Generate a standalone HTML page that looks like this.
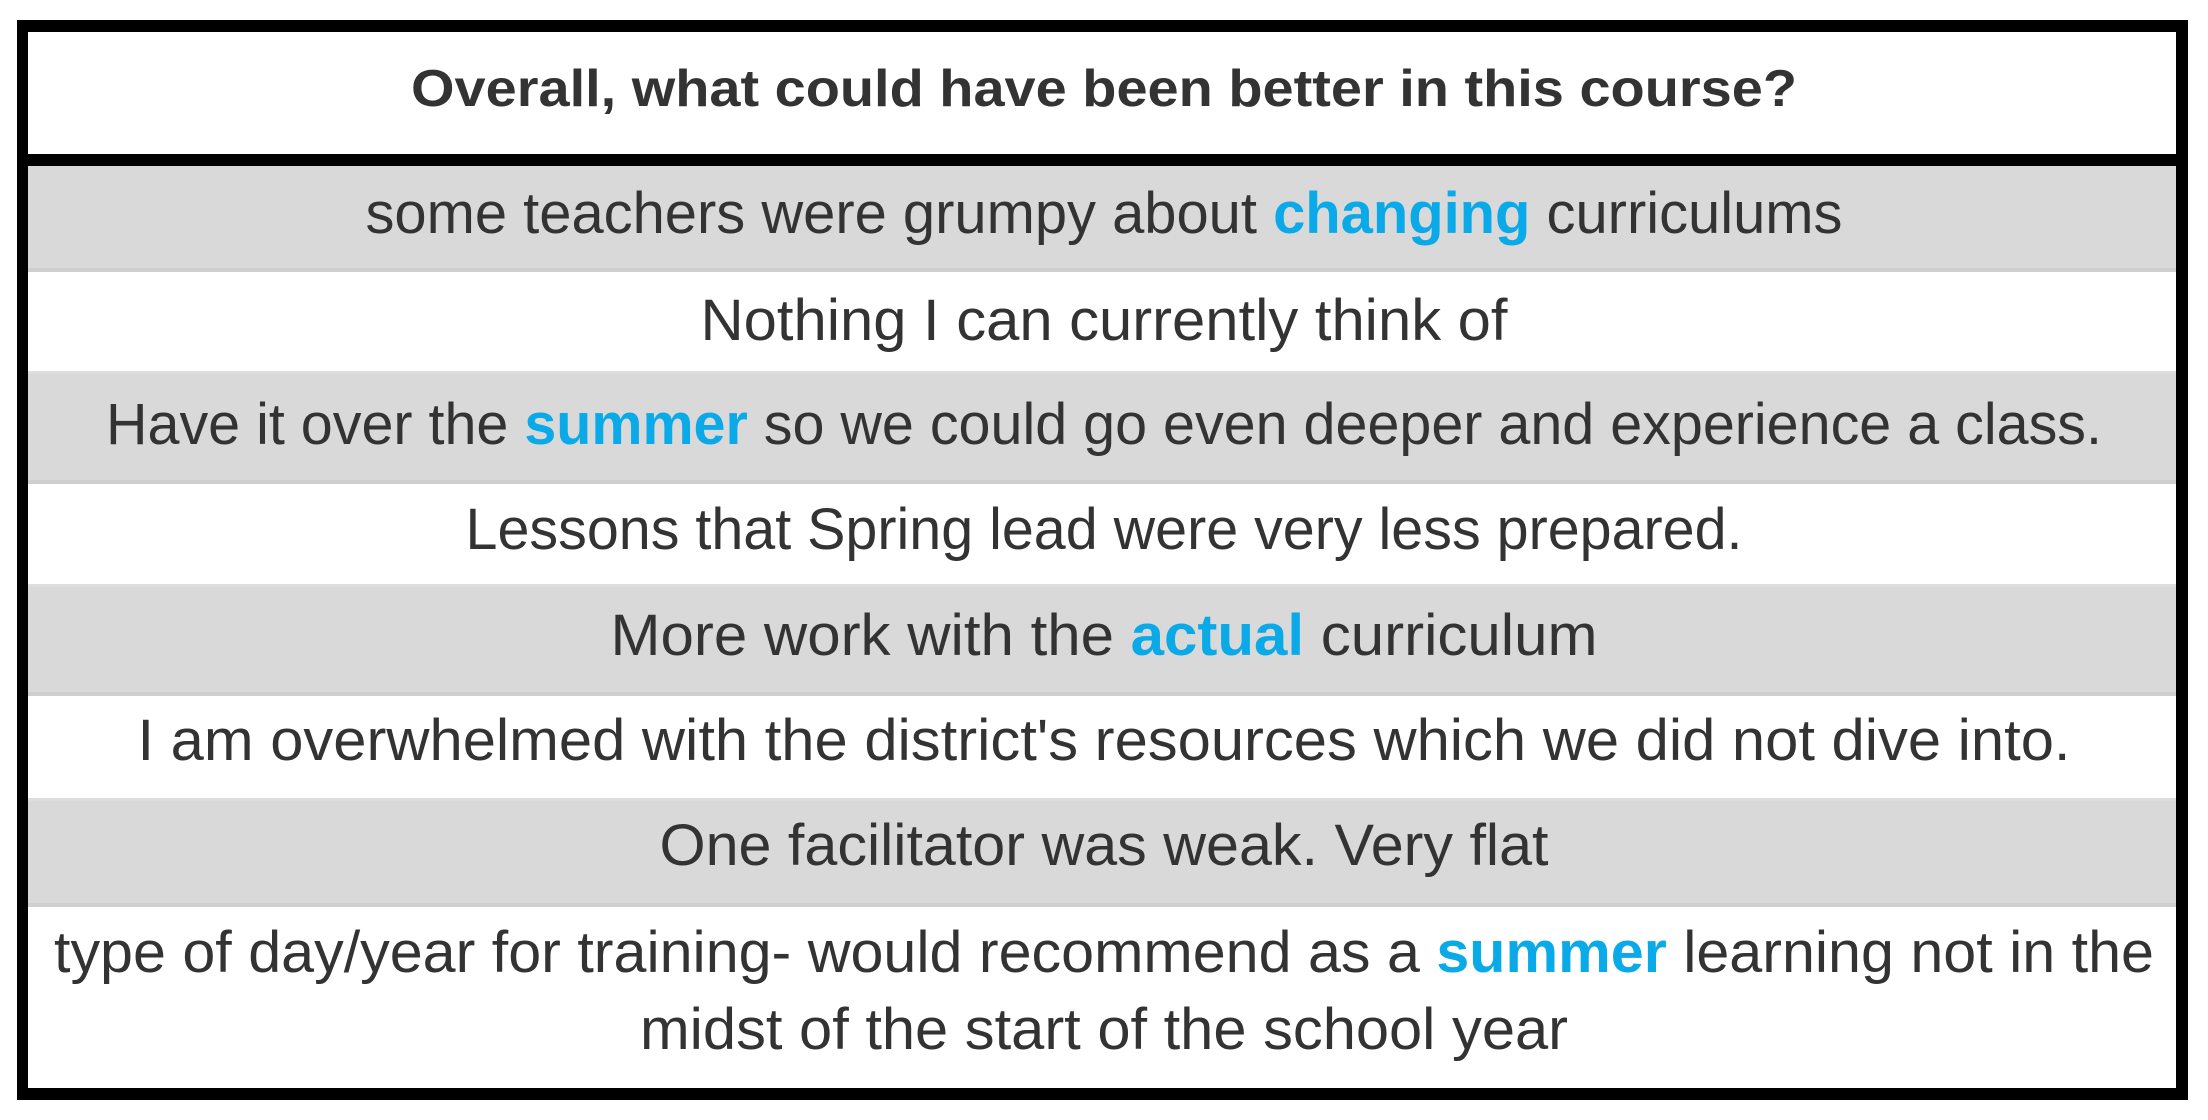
<!DOCTYPE html>
<html><head><meta charset="utf-8"><style>
html,body{margin:0;padding:0;background:#fff;}
svg{display:block;}
text{font-family:"Liberation Sans",sans-serif;fill:#333;}
.b{font-weight:bold;fill:#0aa9e8;}
</style></head><body>
<svg width="2208" height="1120" viewBox="0 0 2208 1120">
<rect x="0" y="0" width="2208" height="1120" fill="#fff"/>
<g>
<rect x="28" y="166" width="2148" height="104" fill="#d9d9d9"/>
<rect x="28" y="268" width="2148" height="4" fill="#cfcfcf"/>
<rect x="28" y="371" width="2148" height="3" fill="#dedede"/>
<rect x="28" y="374" width="2148" height="108" fill="#d9d9d9"/>
<rect x="28" y="480" width="2148" height="4" fill="#cfcfcf"/>
<rect x="28" y="584" width="2148" height="3" fill="#dedede"/>
<rect x="28" y="587" width="2148" height="107" fill="#d9d9d9"/>
<rect x="28" y="692" width="2148" height="4" fill="#cfcfcf"/>
<rect x="28" y="798" width="2148" height="3" fill="#dedede"/>
<rect x="28" y="801" width="2148" height="104" fill="#d9d9d9"/>
<rect x="28" y="903" width="2148" height="4" fill="#cfcfcf"/>
</g>
<text x="1104" y="106" text-anchor="middle" font-size="52" font-weight="bold" textLength="1386" lengthAdjust="spacingAndGlyphs">Overall, what could have been better in this course?</text>
<g font-size="58">
<text x="1104" y="233" text-anchor="middle" textLength="1477" lengthAdjust="spacingAndGlyphs">some teachers were grumpy about <tspan class="b">changing</tspan> curriculums</text>
<text x="1104" y="340" text-anchor="middle" textLength="807" lengthAdjust="spacingAndGlyphs">Nothing I can currently think of</text>
<text x="1104" y="444" text-anchor="middle" textLength="1996" lengthAdjust="spacingAndGlyphs">Have it over the <tspan class="b">summer</tspan> so we could go even deeper and experience a class.</text>
<text x="1104" y="549" text-anchor="middle" textLength="1277" lengthAdjust="spacingAndGlyphs">Lessons that Spring lead were very less prepared.</text>
<text x="1104" y="655" text-anchor="middle" textLength="987" lengthAdjust="spacingAndGlyphs">More work with the <tspan class="b">actual</tspan> curriculum</text>
<text x="1104" y="760" text-anchor="middle" textLength="1933" lengthAdjust="spacingAndGlyphs">I am overwhelmed with the district's resources which we did not dive into.</text>
<text x="1104" y="865" text-anchor="middle" textLength="889" lengthAdjust="spacingAndGlyphs">One facilitator was weak. Very flat</text>
<text x="1104" y="972" text-anchor="middle" textLength="2100" lengthAdjust="spacingAndGlyphs">type of day/year for training- would recommend as a <tspan class="b">summer</tspan> learning not in the</text>
<text x="1104" y="1049" text-anchor="middle" textLength="928" lengthAdjust="spacingAndGlyphs">midst of the start of the school year</text>
</g>
<g fill="#000">
<rect x="17" y="20" width="2171" height="12"/>
<rect x="17" y="1088" width="2171" height="12"/>
<rect x="17" y="20" width="11" height="1080"/>
<rect x="2176" y="20" width="12" height="1080"/>
<rect x="17" y="154" width="2171" height="12"/>
</g>
</svg>
</body></html>
